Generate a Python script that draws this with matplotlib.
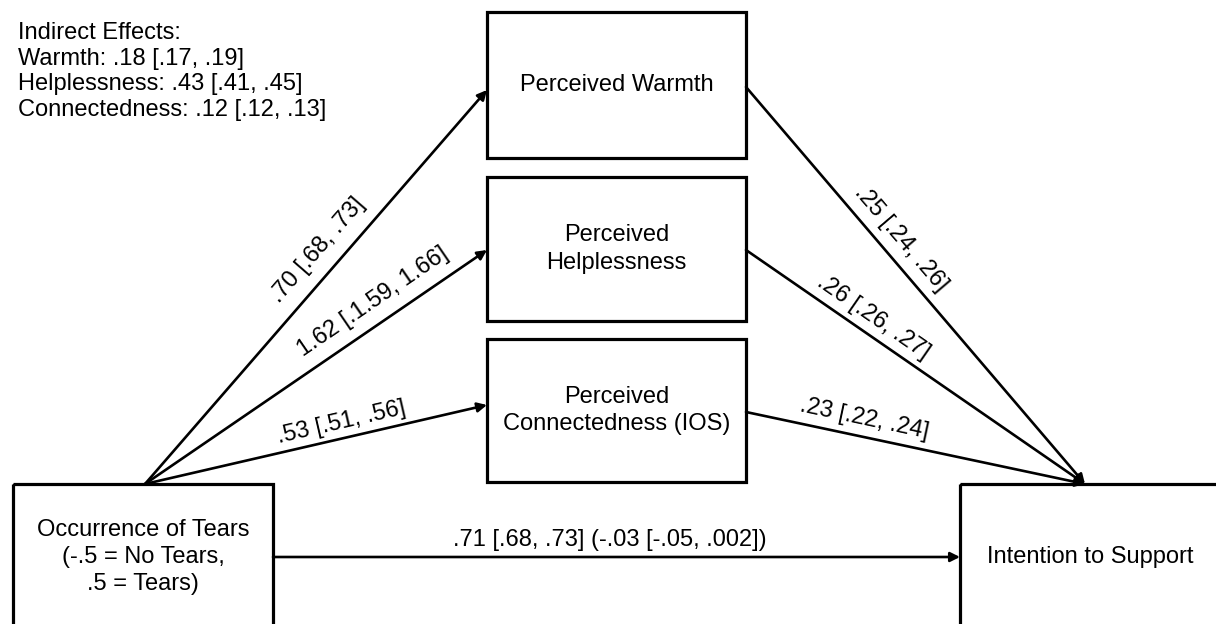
import matplotlib.pyplot as plt
from matplotlib.patches import Rectangle
import numpy as np

plt.rcParams['font.family'] = ['Liberation Sans', 'DejaVu Sans']

# Node labels
tears_label = 'Occurrence of Tears\n(-.5 = No Tears,\n.5 = Tears)'
support_label = 'Intention to Support'
mediator_labels = ['Perceived Warmth', 'Perceived\nHelplessness', 'Perceived\nConnectedness (IOS)']

# Path estimates
a_paths = ['.70 [.68, .73]', '1.62 [.1.59, 1.66]', '.53 [.51, .56]']
b_paths = ['.25 [.24, .26]', '.26 [.26, .27]', '.23 [.22, .24]']
c_path = '.71 [.68, .73] (-.03 [-.05, .002])'
indirect_lines = ['Indirect Effects:',
                  'Warmth: .18 [.17, .19]',
                  'Helplessness: .43 [.41, .45]',
                  'Connectedness: .12 [.12, .13]']

# Layout (pixel space, y down)
W, H = 1216, 624
med_boxes = [(487, 12, 746, 158), (487, 177, 746, 321), (487, 339, 746, 482)]
med_in_y = [90, 250, 405]
med_out_y = [87, 250, 412]
tears_box = (13, 484, 273, 640)
support_box = (960, 484, 1230, 640)
src = (145, 484)
dst = (1085, 484)
c_y = 557
a_label_pos = [(318, 250), (373, 302), (341, 423)]
b_label_pos = [(901, 239), (873, 317), (864, 419)]

fs = 17
box_lw = 2.3
arr_lw = 1.9
ls = 1.32

fig = plt.figure(figsize=(W / 100, H / 100), dpi=100)
ax = fig.add_axes([0, 0, 1, 1])
ax.set_xlim(0, W)
ax.set_ylim(H, 0)
ax.axis('off')


def box(b, label):
    x0, y0, x1, y1 = b
    ax.add_patch(Rectangle((x0, y0), x1 - x0, y1 - y0, fill=False,
                           edgecolor='black', lw=box_lw, zorder=3))
    if label:
        ax.text((x0 + x1) / 2, (y0 + y1) / 2, label, ha='center', va='center',
                fontsize=fs, linespacing=ls, zorder=4)


def arrow(p, q):
    ax.annotate('', xy=q, xytext=p,
                arrowprops=dict(arrowstyle='-|>', lw=arr_lw, color='black',
                                mutation_scale=14, shrinkA=0, shrinkB=0),
                zorder=2)


def angle(p, q):
    return np.degrees(np.arctan2(-(q[1] - p[1]), q[0] - p[0]))


for b, lab in zip(med_boxes, mediator_labels):
    box(b, lab)

box(tears_box, None)
ax.text((tears_box[0] + tears_box[2]) / 2, c_y, tears_label, ha='center',
        va='center', fontsize=fs, linespacing=ls)
box(support_box, None)
ax.text(1090, c_y, support_label, ha='center', va='center', fontsize=fs)

for i in range(3):
    tip = (med_boxes[i][0], med_in_y[i])
    arrow(src, tip)
    ax.text(*a_label_pos[i], a_paths[i], rotation=angle(src, tip),
            rotation_mode='anchor', ha='center', va='center', fontsize=fs)
    start = (med_boxes[i][2], med_out_y[i])
    arrow(start, dst)
    ax.text(*b_label_pos[i], b_paths[i], rotation=angle(start, dst),
            rotation_mode='anchor', ha='center', va='center', fontsize=fs)

arrow((tears_box[2], c_y), (support_box[0], c_y))
ax.text(610, 540, c_path, ha='center', va='center', fontsize=fs)

for k, line in enumerate(indirect_lines):
    ax.text(18, 39 + 25.6 * k, line, ha='left', va='baseline', fontsize=fs)

fig.savefig('out.png', dpi=100, facecolor='white')
